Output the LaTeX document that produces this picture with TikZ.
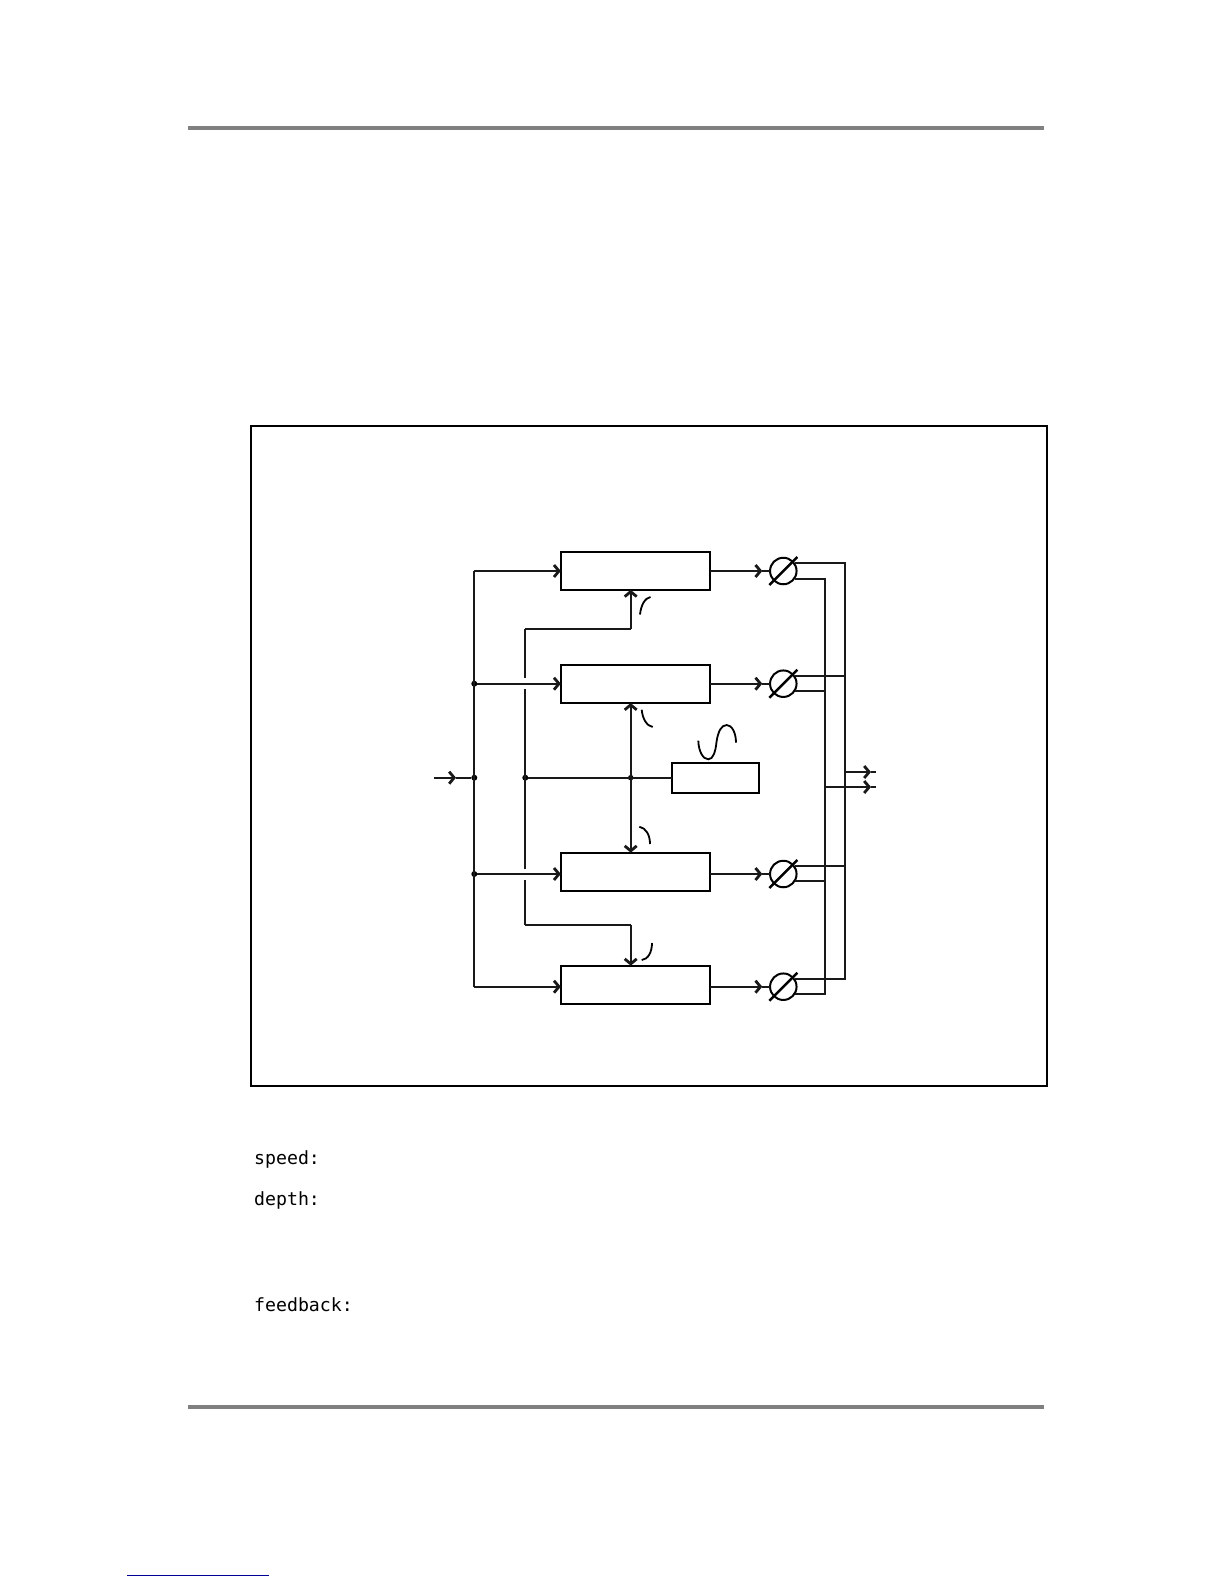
\documentclass[tikz,border=0pt]{standalone}
\usepackage{fontspec}
\setmonofont{DejaVu Sans Mono}
\usetikzlibrary{arrows.meta,calc}
\definecolor{rulegray}{RGB}{128,128,128}
\definecolor{linkblue}{RGB}{0,0,150}
\tikzset{
  wire/.style={line width=2pt,draw=black!90},
  arrowwire/.style={wire,-{Straight Barb[length=5pt,width=12pt,line width=2.8pt]}},
  dblarrow/.style={wire,{Straight Barb[length=5pt,width=12pt,line width=2.8pt]}-{Straight Barb[length=5pt,width=12pt,line width=2.8pt]}},
  dlybox/.style={draw=black,line width=2.3pt,minimum width=149pt,minimum height=38pt,inner sep=0pt,outer sep=0pt},
  lfobox/.style={draw=black,line width=2.3pt,minimum width=87pt,minimum height=30pt,inner sep=0pt,outer sep=0pt},
  pancircle/.style={circle,draw=black,line width=2pt,minimum size=26.5pt,inner sep=0pt,outer sep=0pt},
  jdot/.style={circle,fill=black,minimum size=6pt,inner sep=0pt,outer sep=0pt},
  slash/.style={line width=2.5pt,draw=black},
  curvemark/.style={line width=1.8pt,draw=black},
  rulebar/.style={draw=rulegray,line width=4pt},
  paramlabel/.style={font=\ttfamily\fontsize{18.2}{20}\selectfont,anchor=base west,inner sep=0pt},
}
\begin{document}
\begin{tikzpicture}[x=1pt,y=-1pt]
\useasboundingbox (0,0) rectangle (1224,1584);
\fill[white] (0,0) rectangle (1224,1584);
% page furniture
\coordinate (r1a) at (188,128); \coordinate (r1b) at (1044,128);
\coordinate (r2a) at (188,1407); \coordinate (r2b) at (1044,1407);
\coordinate (la) at (127,1575); \coordinate (lb) at (269,1575);
\draw[rulebar] (r1a) -- (r1b);
\draw[rulebar] (r2a) -- (r2b);
\draw[draw=linkblue,line width=1pt] (la) -- (lb);
% frame
\node[draw=black,line width=2pt,minimum width=795.6pt,minimum height=660pt,inner sep=0pt] (frame) at (648.7,756) {};
% boxes
\node[dlybox] (b1) at (635.3,570.8) {};
\node[dlybox] (b2) at (635.3,684) {};
\node[dlybox] (b3) at (635.3,871.7) {};
\node[dlybox] (b4) at (635.3,984.7) {};
\node[lfobox] (lfo) at (715.3,777.7) {};
% pan circles
\node[pancircle] (p1) at (783.3,571) {};
\node[pancircle] (p2) at (783.3,683.7) {};
\node[pancircle] (p3) at (783.3,874) {};
\node[pancircle] (p4) at (783.3,986.7) {};
\foreach \p in {p1,p2,p3,p4}{
  \draw[slash] ($(\p.center)+(-14,14)$) -- ($(\p.center)+(14,-14)$);
}
% junctions
\node[jdot] (j2) at (474.3,683.7) {};
\node[jdot] (jin) at (474.3,777.7) {};
\node[jdot] (j3) at (474.3,874) {};
\node[jdot] (jm) at (525.3,777.7) {};
\node[jdot,minimum size=5.5pt] (jc) at (630.7,777.7) {};
% input bus
\coordinate (in) at (434,777.7);
\coordinate (intip) at (456,777.7);
\coordinate (bt) at (474.3,571);
\coordinate (bb) at (474.3,986.7);
\draw[arrowwire] (in) -- (intip);
\draw[wire] (intip) -- (jin);
\draw[wire] (bt) -- (bb);
\draw[arrowwire] (bt) -- (bt -| b1.west);
\draw[arrowwire] (j2) -- (j2 -| b2.west);
\draw[arrowwire] (j3) -- (j3 -| b3.west);
\draw[arrowwire] (bb) -- (bb -| b4.west);
% modulation bus
\coordinate (mt) at (525.3,629);
\coordinate (mb) at (525.3,924.7);
\coordinate (g2a) at (525.3,678); \coordinate (g2b) at (525.3,689);
\coordinate (g3a) at (525.3,869); \coordinate (g3b) at (525.3,879.5);
\draw[wire] (mt) -- (g2a);
\draw[wire] (g2b) -- (g3a);
\draw[wire] (g3b) -- (mb);
\draw[wire] (jm) -- (lfo.west);
\draw[wire] (g2a |- mt) -- (mt -| jc);
\draw[arrowwire] (mt -| jc) -- (jc |- b1.south);
\draw[wire] (mb) -- (mb -| jc);
\draw[arrowwire] (mb -| jc) -- (jc |- b4.north);
\draw[dblarrow] (jc |- b2.south) -- (jc |- b3.north);
% box to pan
\foreach \b/\p in {b1/p1,b2/p2,b3/p3,b4/p4}{
  \coordinate (t\p) at ($(\p.center)+(-21,0)$);
  \draw[arrowwire] (\p -| \b.east) -- (t\p);
  \draw[wire] (t\p) -- (\p.west);
}
% right buses
\coordinate (v1t) at (824.7,578.7);
\coordinate (v1b) at (824.7,993.7);
\coordinate (v2t) at (845.3,563.3);
\coordinate (v2b) at (845.3,978.7);
\draw[wire] ($(p1.center)+(12,-7.7)$) -- (v2t) -- (v2b) -- ($(p4.center)+(12,-8)$);
\draw[wire] ($(p1.center)+(12,7.7)$) -- (v1t) -- (v1b) -- ($(p4.center)+(12,7)$);
\coordinate (v2a) at (845.3,676); \coordinate (v2c) at (845.3,866);
\coordinate (v1a) at (824.7,691.3); \coordinate (v1c) at (824.7,881);
\draw[wire] ($(p2.center)+(12,-7.7)$) -- (v2a);
\draw[wire] ($(p2.center)+(12,7.6)$) -- (v1a);
\draw[wire] ($(p3.center)+(12,-8)$) -- (v2c);
\draw[wire] ($(p3.center)+(12,7)$) -- (v1c);
% outputs
\coordinate (o1s) at (845.3,772); \coordinate (o1t) at (871,772); \coordinate (o1e) at (876,772);
\coordinate (o2s) at (824.7,787); \coordinate (o2t) at (871,787); \coordinate (o2e) at (876,787);
\draw[arrowwire] (o1s) -- (o1t); \draw[wire] (o1t) -- (o1e);
\draw[arrowwire] (o2s) -- (o2t); \draw[wire] (o2t) -- (o2e);
% curve glyphs
\draw[curvemark] (640,614.5) .. controls (641,605) and (645,598) .. (650.5,597);
\draw[curvemark] (641.7,709.7) .. controls (642.5,719) and (647,726) .. (652.7,727);
\draw[curvemark] (639.3,826.7) .. controls (646,828) and (650,835) .. (650,844);
\draw[curvemark] (641.7,960) .. controls (648,959.5) and (652,952) .. (652,943);
\draw[curvemark] (698.3,740.7) .. controls (698.5,751) and (703,759.3) .. (708.3,759.3)
  .. controls (713,759.3) and (715.5,752) .. (716.5,742)
  .. controls (718,732) and (721,725) .. (726.7,725)
  .. controls (732,725) and (736,733) .. (736,742.7);
% parameter names
\node[paramlabel] (ps) at (254,1164.5) {speed:};
\node[paramlabel] (pd) at (254,1205.5) {depth:};
\node[paramlabel] (pf) at (254,1311.5) {feedback:};
\end{tikzpicture}
\end{document}
